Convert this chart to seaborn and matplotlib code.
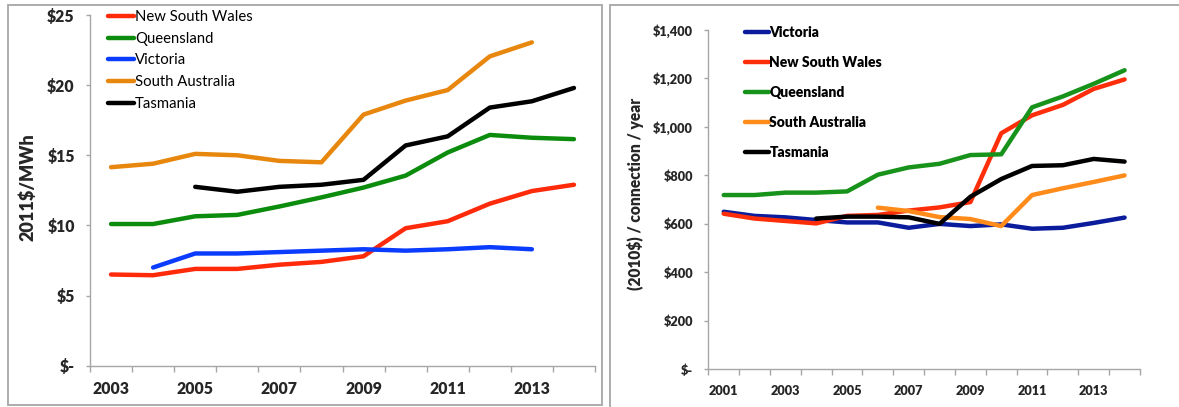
import pandas as pd
import seaborn as sns
import matplotlib.pyplot as plt
from matplotlib.lines import Line2D
from matplotlib.patches import Rectangle
from matplotlib.ticker import FuncFormatter, FixedLocator

# ---- left chart: 2011$/MWh ----
years_left = list(range(2003, 2015))
nsw_left = [6.5, 6.45, 6.9, 6.9, 7.2, 7.4, 7.8, 9.8, 10.3, 11.55, 12.45, 12.9]
qld_left = [10.1, 10.1, 10.65, 10.75, 11.35, 12.0, 12.7, 13.55, 15.2, 16.45, 16.25, 16.15]
vic_left = [None, 7.0, 8.0, 8.0, 8.1, 8.2, 8.3, 8.2, 8.3, 8.45, 8.3, None]
sa_left = [14.15, 14.4, 15.1, 15.0, 14.6, 14.5, 17.9, 18.9, 19.65, 22.05, 23.05, None]
tas_left = [None, None, 12.75, 12.4, 12.75, 12.9, 13.25, 15.7, 16.35, 18.4, 18.85, 19.8]

# ---- right chart: (2010$) / connection / year ----
years_right = list(range(2001, 2015))
vic_right = [650, 633, 627, 616, 606, 606, 584, 600, 591, 598, 580, 584, 604, 626]
nsw_right = [642, 622, 612, 602, 633, 637, 655, 668, 690, 974, 1048, 1091, 1157, 1196]
qld_right = [719, 719, 729, 729, 734, 803, 833, 848, 884, 887, 1081, 1126, 1178, 1234]
sa_right = [None, None, None, None, None, 667, 653, 628, 620, 591, 719, 747, 773, 800]
tas_right = [None, None, None, 622, 630, 630, 627, 600, 712, 785, 839, 842, 868, 857]

left_series = {
    'New South Wales': nsw_left,
    'Queensland': qld_left,
    'Victoria': vic_left,
    'South Australia': sa_left,
    'Tasmania': tas_left,
}
left_colors = {
    'New South Wales': '#FF2A0A',
    'Queensland': '#0C8C0C',
    'Victoria': '#0A3CFF',
    'South Australia': '#E8870E',
    'Tasmania': '#000000',
}
right_series = {
    'Victoria': vic_right,
    'New South Wales': nsw_right,
    'Queensland': qld_right,
    'South Australia': sa_right,
    'Tasmania': tas_right,
}
right_colors = {
    'Victoria': '#0A1C9C',
    'New South Wales': '#FF2E0A',
    'Queensland': '#17921A',
    'South Australia': '#FF8C1A',
    'Tasmania': '#000000',
}


def long_form(years, series):
    rows = []
    for name, vals in series.items():
        for i, (yr, v) in enumerate(zip(years, vals)):
            if v is not None:
                rows.append({'pos': i, 'year': yr, 'state': name, 'value': v})
    return pd.DataFrame(rows)


def money(v, _):
    return '$-' if v == 0 else f'${v:,.0f}'


sns.set_style('white')
plt.rcParams['font.family'] = ['Lato', 'DejaVu Sans']
plt.rcParams['text.color'] = '#000000'
HEAVY = 'heavy'

fig = plt.figure(figsize=(11.79, 4.07), dpi=100)
W, H = 1179, 407

# panel frames
fig.add_artist(Rectangle((8 / W, 1 - 405 / H), 594 / W, 400.5 / H, transform=fig.transFigure,
                         fill=False, ec='#A6A6A6', lw=1.3))
fig.add_artist(Line2D([610 / W, 1], [1 - 5 / H, 1 - 5 / H], transform=fig.transFigure,
                      color='#A6A6A6', lw=1.3))
fig.add_artist(Line2D([610 / W, 610 / W], [1 - 5 / H, 0], transform=fig.transFigure,
                      color='#A6A6A6', lw=1.3))

ax1 = fig.add_axes([90 / W, 1 - 365.7 / H, 505 / W, 350.7 / H])
ax2 = fig.add_axes([708.3 / W, 1 - 369.3 / H, 431.7 / W, 339.3 / H])

panels = [
    (ax1, years_left, left_series, left_colors, (0, 25), 5, '2011$/MWh', 13, 11.3),
    (ax2, years_right, right_series, right_colors, (0, 1400), 200, '(2010$) / connection / year', 11.2, 9.2),
]

for ax, years, series, colors, ylim, ystep, ylabel, lab_fs, tick_fs in panels:
    df = long_form(years, series)
    sns.lineplot(data=df, x='pos', y='value', hue='state', hue_order=list(series.keys()),
                 palette=colors, lw=3.2, errorbar=None, ax=ax, solid_capstyle='round')
    n = len(years)
    ax.set_xlim(-0.5, n - 0.5)
    ax.set_ylim(*ylim)
    ax.set_yticks(range(ylim[0], ylim[1] + 1, ystep))
    ax.yaxis.set_major_formatter(FuncFormatter(money))
    ax.set_xticks(range(0, n, 2))
    ax.set_xticklabels([str(y) for y in years[::2]])
    ax.xaxis.set_minor_locator(FixedLocator([i - 0.5 for i in range(n + 1)]))
    ax.tick_params(axis='x', which='major', length=0, pad=11)
    ax.tick_params(axis='x', which='minor', length=4, width=1, color='#A6A6A6', direction='out', bottom=True)
    ax.tick_params(axis='y', length=3, width=1, color='#A6A6A6', direction='out', left=True, pad=8)
    for lbl in ax.get_xticklabels() + ax.get_yticklabels():
        lbl.set_fontweight(HEAVY)
        lbl.set_fontsize(tick_fs)
    for side in ['top', 'right']:
        ax.spines[side].set_visible(False)
    for side in ['left', 'bottom']:
        ax.spines[side].set_color('#A6A6A6')
        ax.spines[side].set_linewidth(1)
    ax.set_xlabel('')
    ax.set_ylabel(ylabel, fontsize=lab_fs, fontweight=HEAVY)
    ax.patch.set_alpha(0)

# legends
ax1.legend(title=None, frameon=False, loc='upper left', bbox_to_anchor=(108 / W, 1 - 10 / H),
           bbox_transform=fig.transFigure, borderpad=0, borderaxespad=0,
           handlelength=1.75, handletextpad=0.05, labelspacing=0.52, fontsize=10.7)
ax2.legend(title=None, frameon=False, loc='upper left', bbox_to_anchor=(745 / W, 1 - 26 / H),
           bbox_transform=fig.transFigure, borderpad=0, borderaxespad=0,
           handlelength=1.7, handletextpad=0.05, labelspacing=1.22,
           prop={'weight': HEAVY, 'size': 10})

ax1.yaxis.set_label_coords(-0.106, 0.51)
ax2.yaxis.set_label_coords(-0.148, 0.516)

fig.savefig('out.png', dpi=100)
